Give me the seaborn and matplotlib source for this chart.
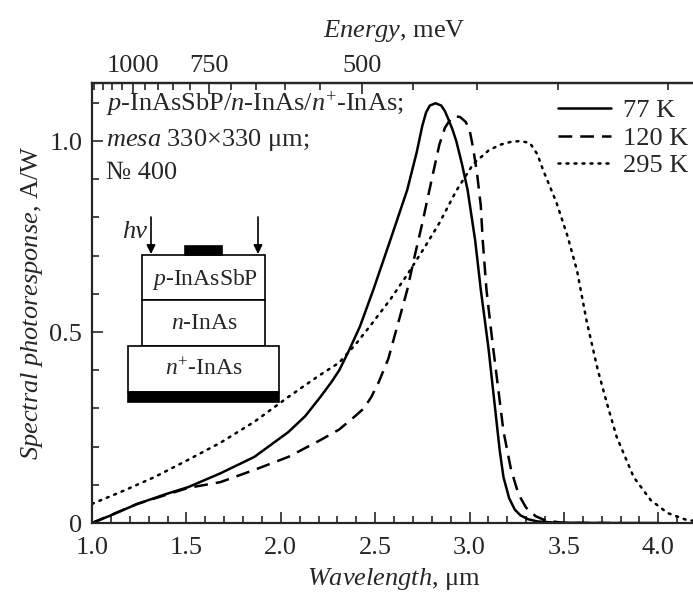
import numpy as np
import pandas as pd
import matplotlib
matplotlib.use("Agg")
import matplotlib.pyplot as plt
from matplotlib.patches import Rectangle, FancyArrowPatch
from matplotlib.ticker import MultipleLocator, FixedLocator
import seaborn as sns

# Wavelength (um) / photoresponse (A/W)
wl_77 = [1.0, 1.1, 1.24, 1.4, 1.51, 1.68, 1.86, 2.04, 2.13, 2.21, 2.27, 2.31, 2.36, 2.42,
         2.49, 2.58, 2.67, 2.72, 2.75, 2.77, 2.79, 2.82, 2.85, 2.87, 2.89, 2.91, 2.93,
         2.96, 2.99, 3.03, 3.06, 3.10, 3.14, 3.16, 3.18, 3.21, 3.24, 3.27, 3.31, 3.36,
         3.45, 3.7, 4.0]
resp_77 = [0.0, 0.02, 0.05, 0.077, 0.094, 0.13, 0.173, 0.238, 0.28, 0.33, 0.37, 0.40, 0.45, 0.515,
           0.61, 0.74, 0.872, 0.97, 1.04, 1.075, 1.093, 1.099, 1.093, 1.078, 1.055, 1.03, 1.0,
           0.94, 0.872, 0.74, 0.61, 0.46, 0.28, 0.19, 0.12, 0.065, 0.035, 0.02, 0.01, 0.004,
           0.001, 0.0, 0.0]

wl_120 = [1.0, 1.24, 1.51, 1.68, 1.86, 2.04, 2.21, 2.31, 2.39, 2.44, 2.48, 2.52, 2.57,
          2.62, 2.67, 2.71, 2.75, 2.80, 2.84, 2.87, 2.90, 2.92, 2.95, 2.98, 3.0, 3.02,
          3.04, 3.06, 3.07, 3.09, 3.12, 3.15, 3.18, 3.22, 3.26, 3.3, 3.35, 3.4, 3.5, 3.8]
resp_120 = [0.0, 0.05, 0.092, 0.107, 0.139, 0.173, 0.217, 0.245, 0.278, 0.30, 0.33, 0.37, 0.43,
            0.52, 0.61, 0.70, 0.785, 0.90, 0.99, 1.035, 1.058, 1.065, 1.063, 1.05, 1.03, 0.98,
            0.915, 0.83, 0.74, 0.61, 0.48, 0.36, 0.24, 0.14, 0.075, 0.04, 0.018, 0.007, 0.0, 0.0]

wl_295 = [1.0, 1.17, 1.33, 1.5, 1.68, 1.86, 2.04, 2.2, 2.31, 2.4, 2.48, 2.58, 2.67, 2.76,
          2.84, 2.93, 3.02, 3.1, 3.16, 3.22, 3.27, 3.32, 3.36, 3.39, 3.46, 3.52, 3.57,
          3.62, 3.68, 3.73, 3.78, 3.87, 3.96, 4.05, 4.15, 4.2]
resp_295 = [0.05, 0.085, 0.12, 0.163, 0.21, 0.265, 0.33, 0.385, 0.42, 0.47, 0.52, 0.585, 0.65, 0.72,
            0.785, 0.87, 0.94, 0.975, 0.99, 0.998, 1.0, 0.995, 0.965, 0.924, 0.84, 0.75, 0.66,
            0.53, 0.40, 0.31, 0.225, 0.12, 0.06, 0.026, 0.008, 0.005]

labels = ["77 K", "120 K", "295 K"]
energy_major = [1000, 750, 500]
energy_minor = list(range(300, 1201, 50))
HC = 1215.0  # scale used by the top axis of the picture

FS = 19
sns.set_style("ticks")
plt.rcParams["font.family"] = ["Liberation Serif", "DejaVu Serif"]
plt.rcParams["mathtext.fontset"] = "custom"
plt.rcParams["mathtext.rm"] = "Liberation Serif"
plt.rcParams["mathtext.it"] = "Liberation Serif:italic"
plt.rcParams["font.size"] = FS

W, H = 693, 599
fig = plt.figure(figsize=(W / 100, H / 100), dpi=100)
x0, x1, y0, y1 = 92, 696, 523, 83
ax = fig.add_axes([x0 / W, 1 - y0 / H, (x1 - x0) / W, (y0 - y1) / H])

df = pd.concat([
    pd.DataFrame({"wl": wl_77, "resp": resp_77, "T": labels[0]}),
    pd.DataFrame({"wl": wl_120, "resp": resp_120, "T": labels[1]}),
    pd.DataFrame({"wl": wl_295, "resp": resp_295, "T": labels[2]}),
])
styles = {labels[0]: "-", labels[1]: (0, (5.5, 3.2)), labels[2]: (0, (0.8, 2.4))}
for lab in labels:
    d = df[df["T"] == lab]
    sns.lineplot(data=d, x="wl", y="resp", ax=ax, color="black", lw=1.8,
                 linestyle=styles[lab], label=lab, sort=False,
                 dash_capstyle="round" if lab == labels[2] else "butt")

ax.set_xlim(1.0, 4.2)
ax.set_ylim(0, 1.152)
ax.set_xticks([1.0, 1.5, 2.0, 2.5, 3.0, 3.5, 4.0])
ax.set_xticklabels(["1.0", "1.5", "2.0", "2.5", "3.0", "3.5", "4.0"])
ax.xaxis.set_minor_locator(MultipleLocator(0.1))
ax.set_yticks([0, 0.5, 1.0])
ax.set_yticklabels(["0", "0.5", "1.0"])
ax.yaxis.set_minor_locator(MultipleLocator(0.1))
ax.tick_params(which="both", direction="in", width=1.2, labelsize=FS, top=False, right=False)
ax.tick_params(which="major", length=8)
ax.tick_params(which="minor", length=5)
ax.tick_params(axis="x", pad=10)
ax.tick_params(axis="y", pad=7)
for s in ax.spines.values():
    s.set_linewidth(1.6)
ax.spines["right"].set_visible(False)

ax.set_xlabel(r"$\mathit{Wavelength}$, μm", fontsize=FS, labelpad=5)
ax.set_ylabel(r"$\mathit{Spectral\ photoresponse}$, A/W", fontsize=FS, labelpad=3)

sec = ax.secondary_xaxis("top", functions=(lambda x: HC / np.asarray(x, float),
                                           lambda e: HC / np.asarray(e, float)))
sec.set_xticks(energy_major)
sec.set_xticklabels([str(e) for e in energy_major])
sec.xaxis.set_minor_locator(FixedLocator(energy_minor))
sec.tick_params(which="both", direction="in", width=1.2, labelsize=FS)
sec.tick_params(which="major", length=8, pad=4)
sec.tick_params(which="minor", length=5)
sec.spines["top"].set_linewidth(1.6)
sec.set_xlabel(r"$\mathit{Energy}$, meV", fontsize=FS, labelpad=13)

leg = ax.legend(loc="upper right", bbox_to_anchor=(1.005, 0.988), frameon=False,
                handlelength=2.0, handletextpad=0.45, labelspacing=0.15,
                borderaxespad=0.0, fontsize=FS)


# sample description, placed in picture pixels
def fx(px):
    return px / W


def fy(py):
    return 1 - py / H


fig.text(fx(106), fy(104), r"$\mathit{p}$-InAsSbP/$\mathit{n}$-InAs/$\mathit{n}^{+}$-InAs;",
         fontsize=FS, va="center", ha="left")
fig.text(fx(106), fy(140), r"$\mathit{mesa}$ 330×330 μm;", fontsize=FS, va="center", ha="left")
fig.text(fx(106), fy(173), "№ 400", fontsize=FS, va="center", ha="left")


def box(px0, py0, px1, py1, fill):
    fig.add_artist(Rectangle((fx(px0), fy(py1)), fx(px1) - fx(px0), fy(py0) - fy(py1),
                             transform=fig.transFigure, facecolor="black" if fill else "white",
                             edgecolor="black", lw=1.2))


box(142, 255, 265, 300, False)
box(142, 300, 265, 346, False)
box(128, 346, 279, 392, False)
box(128, 392, 279, 402, True)
box(185, 246, 222, 255, True)
fig.text(fx(205), fy(279), r"$\mathit{p}$-InAsSbP", fontsize=17, ha="center", va="center")
fig.text(fx(204), fy(324), r"$\mathit{n}$-InAs", fontsize=17, ha="center", va="center")
fig.text(fx(204), fy(369), r"$\mathit{n}^{+}$-InAs", fontsize=17, ha="center", va="center")
fig.text(fx(147), fy(232), "hν", fontsize=FS, ha="right", va="center", style="italic")
for xa in (151, 258):
    fig.add_artist(FancyArrowPatch((fx(xa), fy(217)), (fx(xa), fy(254)),
                                   transform=fig.transFigure, arrowstyle="-|>",
                                   mutation_scale=13, color="black", lw=1.2,
                                   shrinkA=0, shrinkB=0))

fig.savefig("out.png", dpi=100)
